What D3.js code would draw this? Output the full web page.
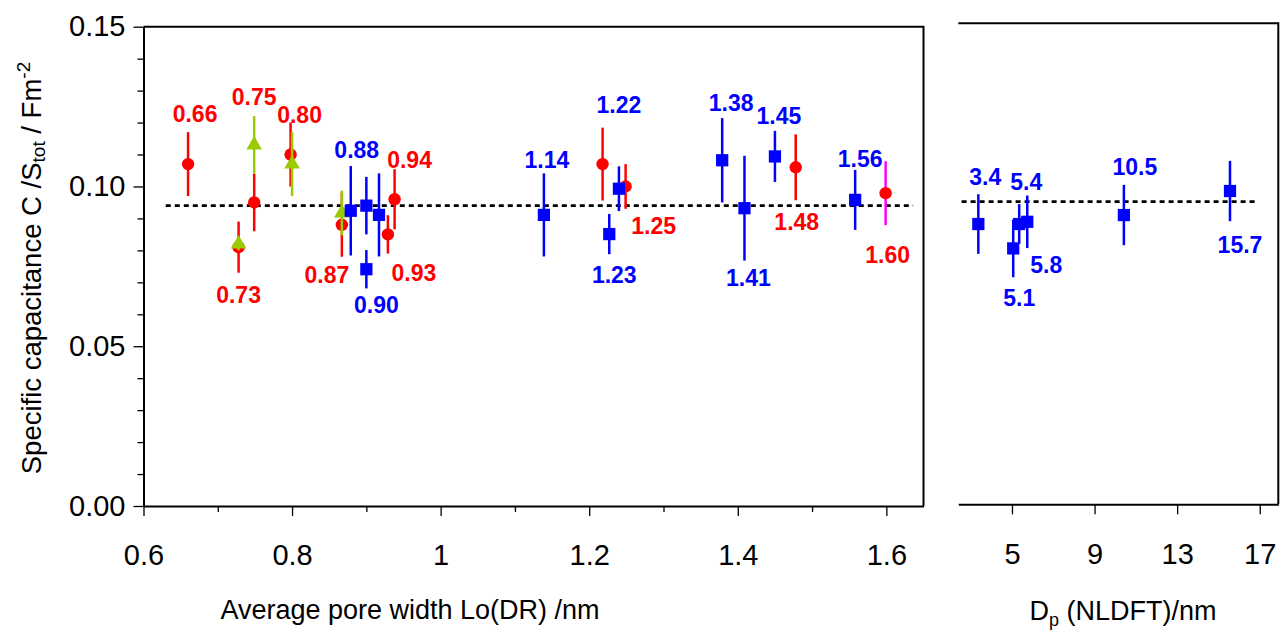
<!DOCTYPE html>
<html>
<head>
<meta charset="utf-8">
<script src="https://cdn.jsdelivr.net/npm/d3@7"></script>
<style>
    body { margin: 0; background: #fff; }
    svg text { font-family: "Liberation Sans", Arial, sans-serif; }
</style>
</head>
<body>
<div id="chart-container"></div>
<script>

// Left panel: average pore width Lo(DR) /nm vs C/Stot (F m-2)
const redX = [0.660, 0.728, 0.749, 0.798, 0.867, 0.929, 0.938, 1.218, 1.249, 1.478];
const redY = [0.107, 0.081, 0.095, 0.110, 0.088, 0.085, 0.096, 0.107, 0.100, 0.106];
const redErr = [0.010, 0.008, 0.009, 0.010, 0.010, 0.006, 0.0094, 0.0114, 0.007, 0.0103];
const redLabels = ["0.66", "0.73", "0.75", "0.80", "0.87", "0.93", "0.94", "", "1.25", "1.48"];

const greenX = [0.728, 0.749, 0.800, 0.867];
const greenY = [0.082, 0.113, 0.107, 0.0917];
const greenErr = [0.002, 0.009, 0.010, 0.007];

const blueX = [0.879, 0.900, 0.900, 0.917, 1.139, 1.227, 1.240, 1.379, 1.409, 1.450, 1.558];
const blueY = [0.0924, 0.0940, 0.0741, 0.0911, 0.0911, 0.0851, 0.0993, 0.1082, 0.0932, 0.1094, 0.0958];
const blueErr = [0.014, 0.009, 0.006, 0.013, 0.013, 0.0063, 0.007, 0.0132, 0.0164, 0.008, 0.0094];
const blueLabels = ["0.88", "", "0.90", "", "1.14", "1.23", "1.22", "1.38", "1.41", "1.45", "1.56"];

// the 1.60 sample (magenta error bar)
const pinkX = [1.599];
const pinkY = [0.0979];
const pinkErr = [0.010];
const pinkLabels = ["1.60"];

// Right panel: Dp (NLDFT) /nm
const mesoX = [3.37, 5.06, 5.35, 5.74, 10.42, 15.56];
const mesoY = [0.0874, 0.0798, 0.0874, 0.0881, 0.0902, 0.0977];
const mesoErr = [0.0093, 0.009, 0.0062, 0.0082, 0.0094, 0.0094];
const mesoLabels = ["3.4", "5.1", "5.4", "5.8", "10.5", "15.7"];

// mean lines
const meanLeft = 0.094;
const meanLeftRange = [0.63, 1.636];
const meanRight = 0.0944;
const meanRightRange = [2.56, 16.77];

// ticks
const xLeftTicks = [0.6, 0.8, 1.0, 1.2, 1.4, 1.6];
const xLeftTickLabels = ["0.6", "0.8", "1", "1.2", "1.4", "1.6"];
const xLeftMinor = [0.7, 0.9, 1.1, 1.3, 1.5];
const yTicks = [0, 0.05, 0.10, 0.15];
const yTickLabels = ["0.00", "0.05", "0.10", "0.15"];
const yMinor = [0.01, 0.02, 0.03, 0.04, 0.06, 0.07, 0.08, 0.09, 0.11, 0.12, 0.13, 0.14];
const xRightTicks = [5, 9, 13, 17];
const xRightTickLabels = ["5", "9", "13", "17"];

const width = 1280;
const height = 630;

const xLeft = d3.scaleLinear().domain([0.6, 1.65]).range([143.5, 923.5]);
const yLeft = d3.scaleLinear().domain([0, 0.15]).range([506, 26.7]);
const xRight = d3.scaleLinear().domain([2.4, 17.9]).range([958.3, 1278.3]);
const yRight = d3.scaleLinear().domain([0, 0.15]).range([504.3, 23.3]);

// label nudges (px from the marker centre)
const labelNudge = {
    "0.66": [7, -50], "0.73": [0, 48], "0.75": [0, -106], "0.80": [9, -40],
    "0.87": [-15, 50], "0.93": [26, 38], "0.94": [15, -40], "1.25": [28, 39],
    "1.48": [1, 54], "0.88": [6, -61], "0.90": [10, 35], "1.14": [3, -55],
    "1.23": [5, 41], "1.22": [0, -84], "1.38": [9, -58], "1.41": [4, 70],
    "1.45": [4, -41], "1.56": [5, -41], "1.60": [2, 62],
    "3.4": [7, -47], "5.1": [6, 49], "5.4": [7, -42], "5.8": [19, 43],
    "10.5": [11, -48], "15.7": [10, 54]
};

const svg = d3.select("#chart-container")
    .append("svg")
    .attr("width", width)
    .attr("height", height)
    .style("background", "#fff");

const tickFont = "29px";

// ---- left panel axes
const gxMinor = svg.append("g")
    .attr("transform", "translate(0,506)")
    .call(d3.axisBottom(xLeft).tickValues(xLeftMinor).tickSize(6).tickFormat(""));
gxMinor.select(".domain").remove();

svg.append("g")
    .attr("transform", "translate(0,506)")
    .call(d3.axisBottom(xLeft)
        .tickValues(xLeftTicks)
        .tickFormat((d, i) => xLeftTickLabels[i])
        .tickSize(10)
        .tickSizeOuter(0)
        .tickPadding(28))
    .call(g => g.selectAll("text").style("font-size", tickFont).attr("fill", "#000"));

const gyMinor = svg.append("g")
    .attr("transform", "translate(143.5,0)")
    .call(d3.axisLeft(yLeft).tickValues(yMinor).tickSize(6).tickFormat(""));
gyMinor.select(".domain").remove();

svg.append("g")
    .attr("transform", "translate(143.5,0)")
    .call(d3.axisLeft(yLeft)
        .tickValues(yTicks)
        .tickFormat((d, i) => yTickLabels[i])
        .tickSize(10)
        .tickSizeOuter(0)
        .tickPadding(8))
    .call(g => g.selectAll("text").style("font-size", tickFont).attr("fill", "#000"));

// box top + right
svg.append("path")
    .attr("d", `M${xLeft(0.6)},${yLeft(0.15)}H${xLeft(1.65)}V${yLeft(0)}`)
    .attr("fill", "none")
    .attr("stroke", "#000")
    .attr("stroke-width", 2);

// ---- right panel axes
svg.append("g")
    .attr("transform", "translate(0,504.3)")
    .call(d3.axisBottom(xRight)
        .tickValues(xRightTicks)
        .tickFormat((d, i) => xRightTickLabels[i])
        .tickSize(10)
        .tickSizeOuter(0)
        .tickPadding(29))
    .call(g => g.selectAll("text").style("font-size", tickFont).attr("fill", "#000"));

svg.append("path")
    .attr("d", `M${xRight(2.4)},${yRight(0.15)}H${xRight(17.9)}V${yRight(0)}`)
    .attr("fill", "none")
    .attr("stroke", "#000")
    .attr("stroke-width", 2);

svg.selectAll(".domain").attr("stroke-width", 2);
svg.selectAll(".tick line").attr("stroke-width", 1.3);

// ---- mean lines (dotted)
svg.append("line")
    .attr("x1", xLeft(meanLeftRange[0])).attr("x2", xLeft(meanLeftRange[1]))
    .attr("y1", yLeft(meanLeft)).attr("y2", yLeft(meanLeft))
    .attr("stroke", "#000").attr("stroke-width", 2.8).attr("stroke-dasharray", "5,4");

svg.append("line")
    .attr("x1", xRight(meanRightRange[0])).attr("x2", xRight(meanRightRange[1]))
    .attr("y1", yRight(meanRight)).attr("y2", yRight(meanRight))
    .attr("stroke", "#000").attr("stroke-width", 2.8).attr("stroke-dasharray", "5,4");

// ---- series
const drawSeries = (xs, ys, errs, xScale, yScale, barColor, markColor, shape) => {
    const data = xs.map((x, i) => ({ x: x, y: ys[i], e: errs[i] }));
    const g = svg.append("g");
    g.selectAll("line")
        .data(data)
        .enter()
        .append("line")
        .attr("x1", d => xScale(d.x))
        .attr("x2", d => xScale(d.x))
        .attr("y1", d => yScale(d.y + d.e))
        .attr("y2", d => yScale(d.y - d.e))
        .attr("stroke", barColor)
        .attr("stroke-width", 2.5);
    if (shape === "circle") {
        g.selectAll("circle")
            .data(data)
            .enter()
            .append("circle")
            .attr("cx", d => xScale(d.x))
            .attr("cy", d => yScale(d.y))
            .attr("r", 6.2)
            .attr("fill", markColor);
    } else {
        const sym = shape === "square"
            ? d3.symbol(d3.symbolSquare, 150)
            : d3.symbol(d3.symbolTriangle, 105);
        g.selectAll("path")
            .data(data)
            .enter()
            .append("path")
            .attr("d", sym)
            .attr("transform", d => `translate(${xScale(d.x)},${yScale(d.y)})`)
            .attr("fill", markColor);
    }
};

const drawLabels = (xs, ys, labels, xScale, yScale, color) => {
    const data = xs.map((x, i) => ({ x: x, y: ys[i], t: labels[i] })).filter(d => d.t !== "");
    svg.append("g")
        .selectAll("text")
        .data(data)
        .enter()
        .append("text")
        .text(d => d.t)
        .attr("x", d => xScale(d.x) + labelNudge[d.t][0])
        .attr("y", d => yScale(d.y) + labelNudge[d.t][1])
        .attr("dy", "0.36em")
        .attr("text-anchor", "middle")
        .style("font-size", "23px")
        .style("font-weight", "bold")
        .attr("fill", color);
};

drawSeries(redX, redY, redErr, xLeft, yLeft, "#ff0000", "#ff0000", "circle");
drawSeries(greenX, greenY, greenErr, xLeft, yLeft, "#99cc00", "#99cc00", "triangle");
drawSeries(blueX, blueY, blueErr, xLeft, yLeft, "#0000ff", "#0000ff", "square");
drawSeries(pinkX, pinkY, pinkErr, xLeft, yLeft, "#ff00ff", "#ff0000", "circle");
drawSeries(mesoX, mesoY, mesoErr, xRight, yRight, "#0000ff", "#0000ff", "square");

drawLabels(redX, redY, redLabels, xLeft, yLeft, "#ff0000");
drawLabels(blueX, blueY, blueLabels, xLeft, yLeft, "#0000ff");
drawLabels(pinkX, pinkY, pinkLabels, xLeft, yLeft, "#ff0000");
drawLabels(mesoX, mesoY, mesoLabels, xRight, yRight, "#0000ff");

// ---- axis titles
svg.append("text")
    .attr("x", 410)
    .attr("y", 619)
    .attr("text-anchor", "middle")
    .style("font-size", "27px")
    .text("Average pore width Lo(DR) /nm");

const dpTitle = svg.append("text")
    .attr("x", 1123)
    .attr("y", 620)
    .attr("text-anchor", "middle")
    .style("font-size", "27px");
dpTitle.append("tspan").text("D");
dpTitle.append("tspan").attr("dy", 6).style("font-size", "18px").text("p");
dpTitle.append("tspan").attr("dy", -6).text(" (NLDFT)/nm");

const yTitle = svg.append("text")
    .attr("transform", "translate(41,268) rotate(-90)")
    .attr("text-anchor", "middle")
    .style("font-size", "27.5px");
yTitle.append("tspan").text("Specific capacitance C /S");
yTitle.append("tspan").attr("dy", 4).style("font-size", "19px").text("tot");
yTitle.append("tspan").attr("dy", -4).text(" / Fm");
yTitle.append("tspan").attr("dy", -11).style("font-size", "19px").text("-2");

</script>
</body>
</html>
